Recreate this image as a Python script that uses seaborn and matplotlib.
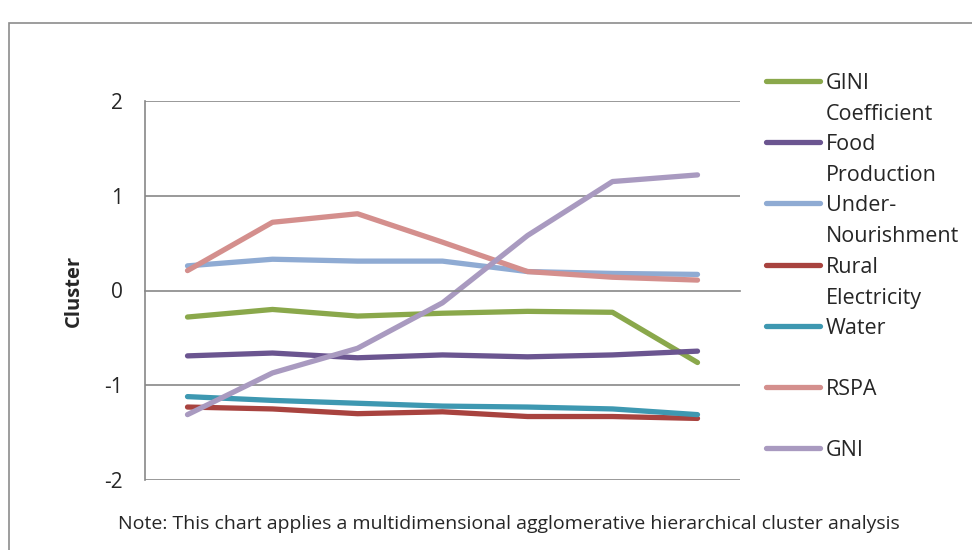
import matplotlib
matplotlib.use("Agg")
import matplotlib.pyplot as plt
import numpy as np
import pandas as pd
import seaborn as sns
from matplotlib.lines import Line2D
from matplotlib.patches import Rectangle

# Series values (7 clusters, no x labels shown)
clusters = [1, 2, 3, 4, 5, 6, 7]
gini = [-0.28, -0.20, -0.27, -0.24, -0.22, -0.23, -0.76]
food = [-0.69, -0.66, -0.71, -0.68, -0.70, -0.68, -0.64]
under = [0.26, 0.33, 0.31, 0.31, 0.20, 0.18, 0.17]
rural = [-1.23, -1.25, -1.30, -1.28, -1.33, -1.33, -1.35]
water = [-1.12, -1.16, -1.19, -1.22, -1.23, -1.25, -1.31]
rspa = [0.21, 0.72, 0.81, 0.51, 0.20, 0.14, 0.11]
gni = [-1.31, -0.87, -0.61, -0.13, 0.58, 1.15, 1.22]

series_names = ['GINI Coefficient', 'Food Production', 'Under-Nourishment',
                'Rural Electricity', 'Water', 'RSPA', 'GNI']
legend_labels = ['GINI\nCoefficient', 'Food\nProduction', 'Under-\nNourishment',
                 'Rural\nElectricity', 'Water', 'RSPA', 'GNI']
colors = ['#8AA84B', '#6B5590', '#8FABD3', '#A8433F', '#3E98B1', '#D48F8D', '#A99AC0']
y_ticks = [-2, -1, 0, 1, 2]

all_values = [gini, food, under, rural, water, rspa, gni]
df = pd.DataFrame({
    'Cluster index': np.tile(clusters, len(series_names)),
    'Value': np.concatenate(all_values),
    'Series': np.repeat(series_names, len(clusters)),
})

sns.set_style('white')
plt.rcParams['font.family'] = ['Open Sans', 'DejaVu Sans']

W, H = 972, 550
fig = plt.figure(figsize=(W / 100, H / 100), dpi=100)

# outer chart frame (runs off the right and bottom edges)
fig.add_artist(Rectangle((9 / W, -0.05), 1.1, (H - 23) / H + 0.05,
                         transform=fig.transFigure, fill=False,
                         edgecolor='#8c8c8c', linewidth=1.2))

ax = fig.add_axes([145 / W, (H - 480) / H, (740 - 145) / W, (480 - 101) / H])
sns.lineplot(data=df, x='Cluster index', y='Value', hue='Series',
             palette=dict(zip(series_names, colors)), hue_order=series_names,
             linewidth=3.8, legend=False, sort=False, ax=ax,
             solid_capstyle='round', solid_joinstyle='round')

ax.set_ylim(-2, 2)
ax.set_xlim(0.5, 7.5)
ax.set_yticks(y_ticks)
ax.set_yticklabels([str(t) for t in y_ticks], fontsize=15)
ax.set_xticks(np.arange(0.5, 8.0, 1.0))
ax.set_xticklabels([])
ax.set_xlabel('')
ax.set_ylabel('Cluster', fontsize=14.5, fontweight='bold')
ax.yaxis.set_label_coords(-61 / 595, 0.5)

gray = '#878787'
for y in [-2, -1, 1, 2]:
    ax.axhline(y, color=gray, linewidth=1.2, zorder=0)
for side in ['top', 'right']:
    ax.spines[side].set_visible(False)
ax.spines['bottom'].set_position(('data', 0))
ax.spines['bottom'].set_color(gray)
ax.spines['left'].set_color(gray)
ax.spines['bottom'].set_linewidth(1.2)
ax.spines['left'].set_linewidth(1.2)
ax.tick_params(axis='x', direction='out', length=7, color=gray, width=1.2)
ax.tick_params(axis='y', direction='out', length=9, color=gray, width=1.2, pad=7)

# legend on the right: handle aligned with first line of each label
y0, step, line_gap = 81, 61.2, 31
for i, (lab, col) in enumerate(zip(legend_labels, colors)):
    yy = y0 + i * step
    fig.add_artist(Line2D([766 / W, 820 / W], [(H - yy) / H] * 2,
                          transform=fig.transFigure, color=col, linewidth=3.8,
                          solid_capstyle='round'))
    for j, part in enumerate(lab.split('\n')):
        fig.text(826 / W, (H - yy - j * line_gap) / H, part, fontsize=15.5,
                 va='center_baseline', ha='left')

fig.text(509 / W, (H - 524) / H,
         'Note: This chart applies a multidimensional agglomerative hierarchical cluster analysis',
         fontsize=14, ha='center', va='center')

fig.savefig('out.png', dpi=100)
